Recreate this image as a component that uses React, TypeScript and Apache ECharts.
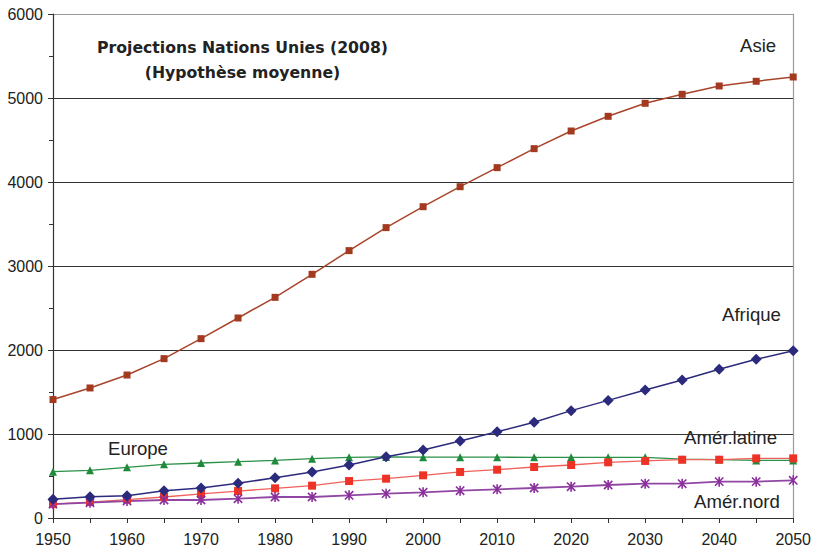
import React, { useEffect, useRef } from "react";
import * as echarts from "echarts";

const years = [1950, 1955, 1960, 1965, 1970, 1975, 1980, 1985, 1990, 1995, 2000, 2005, 2010, 2015, 2020, 2025, 2030, 2035, 2040, 2045, 2050];
const asie = [1410, 1548, 1702, 1897, 2135, 2381, 2627, 2901, 3183, 3457, 3706, 3944, 4171, 4397, 4607, 4782, 4937, 5044, 5143, 5199, 5250];
const afrique = [222, 254, 266, 325, 357, 413, 480, 548, 631, 730, 810, 917, 1028, 1139, 1278, 1400, 1524, 1643, 1770, 1889, 1992];
const europe = [551, 567, 603, 639, 655, 670, 686, 706, 722, 727, 724, 724, 724, 722, 722, 722, 722, 700, 696, 686, 686];
const amerLatine = [165, 190, 218, 250, 286, 321, 353, 385, 440, 468, 508, 548, 575, 607, 631, 663, 679, 694, 694, 710, 710];
const amerNord = [165, 182, 202, 214, 214, 230, 250, 250, 270, 290, 306, 325, 341, 357, 373, 393, 409, 409, 433, 433, 449];
const yTickLabels = ["0", "1000", "2000", "3000", "4000", "5000", "6000"];

const FONT = "'Liberation Sans', Arial, sans-serif";
const TITLE_FONT = "'DejaVu Sans', sans-serif";
const STAR = "path://M0,0 L10,10 M10,0 L0,10 M5,-1 L5,11";

function pairs(vals: number[]) {
  return years.map((y, i) => [y, vals[i]]);
}

export default function App() {
  const ref = useRef<HTMLDivElement>(null);
  useEffect(() => {
    if (!ref.current) return;
    const chart = echarts.init(ref.current, undefined, { renderer: "svg" });
    const labelText = (text: string, x: number, y: number) => ({
      type: "text",
      x,
      y,
      style: { text, fill: "#222", fontFamily: FONT, fontSize: 18.6, verticalAlign: "middle" },
    });
    const titleText = (text: string, y: number) => ({
      type: "text",
      x: 242.5,
      y,
      style: {
        text,
        fill: "#222",
        fontFamily: TITLE_FONT,
        fontWeight: "bold",
        fontSize: 15.7,
        align: "center",
        verticalAlign: "middle",
      },
    });
    chart.setOption({
      animation: false,
      backgroundColor: "#fff",
      grid: { left: 53, right: 18, top: 14, bottom: 33, containLabel: false },
      xAxis: {
        type: "value",
        min: 1950,
        max: 2050,
        interval: 5,
        axisLine: { show: true, lineStyle: { color: "#333", width: 1.2 } },
        axisTick: { show: true, length: 5, lineStyle: { color: "#333" } },
        axisLabel: {
          color: "#222",
          fontFamily: FONT,
          fontSize: 16,
          margin: 13,
          formatter: (v: number) => (v % 10 === 0 ? String(v) : ""),
        },
        splitLine: { show: false },
      },
      yAxis: [
        {
          type: "value",
          min: 0,
          max: 6000,
          interval: 1000,
          axisLine: { show: true, lineStyle: { color: "#333", width: 1.2 } },
          axisTick: { show: true, length: 5, lineStyle: { color: "#333" } },
          minorTick: { show: true, splitNumber: 2, length: 4, lineStyle: { color: "#333" } },
          axisLabel: {
            color: "#222",
            fontFamily: FONT,
            fontSize: 16,
            margin: 10,
            formatter: (v: number) => yTickLabels[Math.round(v / 1000)],
          },
          splitLine: {
            show: true,
            lineStyle: { color: ["#333", "#333", "#333", "#333", "#333", "#333", "#999"], width: 1 },
          },
        },
        {
          type: "value",
          position: "right",
          min: 0,
          max: 6000,
          interval: 1000,
          axisLine: { show: true, lineStyle: { color: "#999", width: 1.2 } },
          axisTick: { show: false },
          axisLabel: { show: false },
          splitLine: { show: false },
        },
      ],
      series: [
        {
          name: "Asie",
          type: "line",
          data: pairs(asie),
          color: "#A33A1F",
          lineStyle: { width: 1.5, color: "#A8442A" },
          symbol: "rect",
          symbolSize: 7,
          itemStyle: { color: "#A33A1F" },
        },
        {
          name: "Europe",
          type: "line",
          data: pairs(europe),
          color: "#1F8A3C",
          lineStyle: { width: 1.3, color: "#2A9146" },
          symbol: "triangle",
          symbolSize: 8,
          itemStyle: { color: "#1F8A3C" },
        },
        {
          name: "Amér.latine",
          type: "line",
          data: pairs(amerLatine),
          color: "#EE3326",
          lineStyle: { width: 1.3, color: "#F0605A" },
          symbol: "rect",
          symbolSize: 8,
          itemStyle: { color: "#EE3326" },
        },
        {
          name: "Amér.nord",
          type: "line",
          data: pairs(amerNord),
          color: "#8A2E9C",
          lineStyle: { width: 1.8, color: "#9146A4" },
          symbol: STAR,
          symbolSize: 10,
          symbolKeepAspect: true,
          itemStyle: { color: "#8A2E9C", borderColor: "#8A2E9C", borderWidth: 1.6 },
        },
        {
          name: "Afrique",
          type: "line",
          data: pairs(afrique),
          color: "#2B2A7C",
          lineStyle: { width: 1.5, color: "#2B2A7C" },
          symbol: "diamond",
          symbolSize: 11,
          itemStyle: { color: "#2B2A7C" },
        },
      ],
      graphic: [
        titleText("Projections Nations Unies (2008)", 47),
        titleText("(Hypothèse moyenne)", 72),
        labelText("Asie", 740, 45),
        labelText("Afrique", 722, 314),
        labelText("Europe", 108, 448),
        labelText("Amér.latine", 684, 437.5),
        labelText("Amér.nord", 694, 501),
      ],
    });
    return () => chart.dispose();
  }, []);
  return <div ref={ref} style={{ position: "absolute", left: 0, top: 0, width: 814, height: 551 }} />;
}
